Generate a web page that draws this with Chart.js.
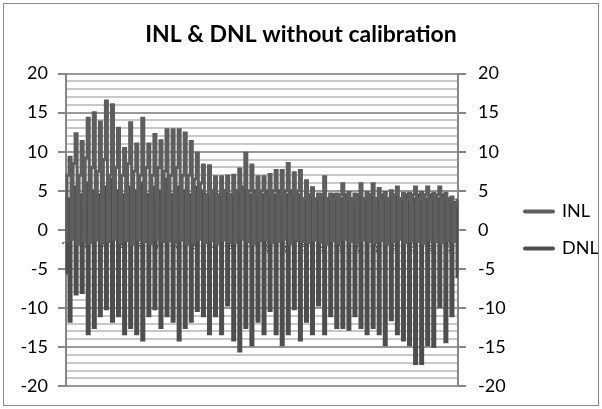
<!DOCTYPE html>
<html>
<head>
<meta charset="utf-8">
<script src="https://cdn.jsdelivr.net/npm/chart.js@4.4.0/dist/chart.umd.min.js"></script>
<style>
  body { margin: 0; background: #fff; }
  #wrap { width: 602px; height: 409px; }
</style>
</head>
<body>
<div id="wrap"><canvas id="inl-dnl" width="602" height="409"></canvas></div>
<script>
// INL: low / mid / peak per code group (upward spikes)
var inl = [
  -1.5, 7.0, 9.3,  -1.2, 8.5, 12.3,  -1.8, 7.0, 11.3,  -1.4, 9.2, 14.3,  -1.6, 8.0, 15.0,
  -1.3, 7.5, 13.8,  -1.7, 9.0, 16.5,  -1.5, 7.0, 16.0,  -1.2, 8.0, 13.0,  -1.6, 7.0, 10.4,
  -1.4, 8.5, 13.7,  -1.8, 7.5, 11.0,  -1.3, 7.0, 14.3,  -1.5, 8.0, 11.0,  -1.7, 7.0, 12.2,
  -1.2, 8.0, 11.4,  -1.5, 7.5, 12.8,  -1.4, 7.0, 12.8,  -1.6, 8.0, 12.8,  -1.3, 7.0, 12.4,
  -1.8, 7.0, 11.3,  -1.5, 6.5, 9.8,  -1.2, 6.0, 8.3,  -1.6, 4.5, 8.2,  -1.4, 5.0, 6.8,
  -1.7, 4.5, 6.8,  -1.3, 5.0, 6.9,  -1.5, 4.5, 7.0,  -1.6, 5.0, 7.8,  -1.2, 5.5, 9.8,
  -1.5, 5.0, 8.3,  -1.8, 4.5, 6.8,  -1.4, 5.0, 6.8,  -1.3, 4.5, 7.1,  -1.6, 5.0, 7.6,
  -1.5, 4.5, 7.6,  -1.2, 5.0, 8.5,  -1.7, 4.5, 7.3,  -1.4, 5.0, 7.6,  -1.5, 4.0, 6.3,
  -1.6, 4.5, 5.4,  -1.3, 3.8, 4.6,  -1.5, 4.5, 6.8,  -1.8, 4.0, 4.6,  -1.4, 4.0, 4.6,
  -1.6, 4.5, 5.9,  -1.2, 4.0, 4.8,  -1.5, 3.8, 4.6,  -1.7, 4.5, 5.9,  -1.3, 4.0, 4.8,
  -1.5, 4.5, 5.9,  -1.6, 4.0, 5.3,  -1.4, 3.8, 4.8,  -1.8, 4.0, 5.0,  -1.5, 4.5, 5.5,
  -1.2, 4.0, 4.7,  -1.6, 3.8, 4.7,  -1.4, 4.5, 5.5,  -1.5, 4.0, 4.8,  -1.7, 4.5, 5.5,
  -1.3, 4.0, 4.7,  -1.5, 4.5, 5.5,  -1.6, 3.8, 4.7,  -1.4, 3.5, 4.2,  -1.5, 3.2, 3.8
];

// DNL: two highs / trough per code group (downward spikes)
var dnl = [
  -5.5, 4.0, -11.7,  2.0, 5.5, -8.2,  1.5, 4.5, -8.0,  2.5, 6.0, -13.3,  1.0, 5.0, -12.5,
  2.0, 4.5, -11.0,  1.5, 5.5, -10.1,  2.5, 6.5, -11.7,  1.0, 5.0, -11.0,  2.0, 4.5, -13.3,
  1.5, 5.5, -12.5,  2.5, 5.0, -13.3,  1.0, 6.0, -14.1,  2.0, 4.5, -11.0,  1.5, 5.5, -10.1,
  2.5, 5.0, -12.5,  1.0, 6.5, -11.0,  2.0, 4.5, -11.7,  1.5, 5.5, -14.1,  2.5, 5.0, -12.5,
  1.0, 4.5, -11.7,  2.0, 5.5, -10.3,  1.5, 5.0, -11.0,  2.5, 4.5, -13.3,  1.0, 5.0, -11.0,
  2.0, 4.5, -13.3,  1.5, 5.0, -9.6,  2.5, 4.5, -14.1,  1.0, 5.0, -15.5,  2.0, 5.5, -12.5,
  1.5, 4.5, -14.7,  2.5, 5.0, -11.7,  1.0, 4.5, -13.3,  2.0, 5.0, -10.3,  1.5, 4.5, -13.3,
  2.5, 5.0, -14.7,  1.0, 4.5, -13.3,  2.0, 5.0, -10.1,  1.5, 4.5, -14.1,  2.5, 4.0, -11.7,
  1.0, 4.5, -13.3,  2.0, 4.0, -9.6,  1.5, 4.5, -13.3,  2.0, 4.0, -11.0,  1.0, 4.5, -12.5,
  2.0, 4.0, -12.5,  1.5, 4.5, -12.7,  2.0, 4.0, -11.0,  1.0, 4.5, -12.5,  2.0, 4.0, -13.3,
  1.5, 4.5, -12.5,  2.0, 4.0, -13.3,  1.0, 4.5, -14.7,  2.0, 4.0, -11.5,  1.5, 4.5, -13.3,
  2.0, 4.0, -14.1,  1.0, 4.5, -14.7,  2.0, 4.0, -17.1,  1.5, 4.5, -17.1,  2.0, 4.0, -14.7,
  1.0, 4.5, -14.9,  2.0, 4.0, -9.8,  1.5, 4.5, -14.3,  2.0, 4.0, -11.0,  1.0, 3.5, -6.0
];

// category axis: code number 1..N
var codes = inl.map(function (v, i) { return i + 1; });
var yMin = -20, yMax = 20, yMajor = 5;

Chart.defaults.font.family = "Lato, 'Open Sans', sans-serif";
Chart.defaults.color = "#000";

// grey frame round the whole chart, like the spreadsheet export
var frame = {
    id: "frame",
    beforeDraw: function (chart) {
        var c = chart.ctx;
        c.save();
        c.fillStyle = "#fff";
        c.fillRect(0, 0, chart.width, chart.height);
        c.strokeStyle = "#8a8a8a";
        c.lineWidth = 1;
        c.strokeRect(3.5, 3.5, chart.width - 7, chart.height - 7);
        c.restore();
    }
};

var ctx = document.getElementById("inl-dnl").getContext("2d");
var myChart = new Chart(ctx, {
    type: "line",
    data: {
        labels: codes,
        datasets: [{
                label: "INL",
                data: inl,
                borderColor: "#5e5e5e",
                backgroundColor: "#5e5e5e",
                borderWidth: 3,
                stepped: "middle",
                pointRadius: 0,
                fill: false
            },
            {
                label: "DNL",
                data: dnl,
                borderColor: "#4e4e4e",
                backgroundColor: "#4e4e4e",
                borderWidth: 3,
                stepped: "middle",
                pointRadius: 0,
                fill: false
            }
        ]
    },
    options: {
        responsive: false,
        animation: false,
        events: [],
        layout: { padding: { left: 4, right: 4, top: 4, bottom: 21 } },
        plugins: {
            title: {
                display: true,
                text: "INL & DNL without calibration",
                font: { size: 23, weight: "bold" },
                padding: { top: 17, bottom: 25 }
            },
            legend: {
                position: "right",
                fullSize: false,
                maxWidth: 92,
                labels: {
                    font: { size: 18 },
                    usePointStyle: true,
                    pointStyle: "line",
                    pointStyleWidth: 28,
                    padding: 19,
                    generateLabels: function (chart) {
                        var items = Chart.defaults.plugins.legend.labels.generateLabels(chart);
                        items.forEach(function (it) { it.lineWidth = 4; it.lineCap = "round"; });
                        return items;
                    }
                }
            },
            tooltip: { enabled: false }
        },
        scales: {
            x: {
                type: "category",
                position: { y: 0 },
                offset: false,
                grid: { display: false, drawTicks: false },
                border: { display: false },
                ticks: {
                    autoSkip: false,
                    minRotation: 90,
                    maxRotation: 90,
                    padding: 11,
                    font: { size: 7 },
                    callback: function (v, i) { return i % 9 === 0 ? codes[i] : ""; }
                }
            },
            y: {
                position: "left",
                min: yMin,
                max: yMax,
                afterFit: function (s) { s.width = 62; },
                border: { color: "#868686", width: 2 },
                grid: {
                    lineWidth: 2,
                    tickLength: 8,
                    color: function (c) { return c.tick.value % yMajor === 0 ? "#999999" : "#c8c8c8"; },
                    tickColor: function (c) { return c.tick.value % yMajor === 0 ? "#868686" : "rgba(0,0,0,0)"; }
                },
                ticks: {
                    stepSize: 1,
                    maxTicksLimit: 50,
                    autoSkip: false,
                    padding: 10,
                    font: { size: 18 },
                    callback: function (v) { return v % yMajor === 0 ? v : ""; }
                }
            },
            y2: {
                position: "right",
                min: yMin,
                max: yMax,
                afterFit: function (s) { s.width = 48; },
                border: { color: "#868686", width: 2 },
                grid: { drawOnChartArea: false, lineWidth: 2, tickLength: 8, color: "#868686" },
                ticks: {
                    stepSize: yMajor,
                    padding: 12,
                    font: { size: 18 }
                }
            }
        }
    },
    plugins: [frame]
});
</script>
</body>
</html>
